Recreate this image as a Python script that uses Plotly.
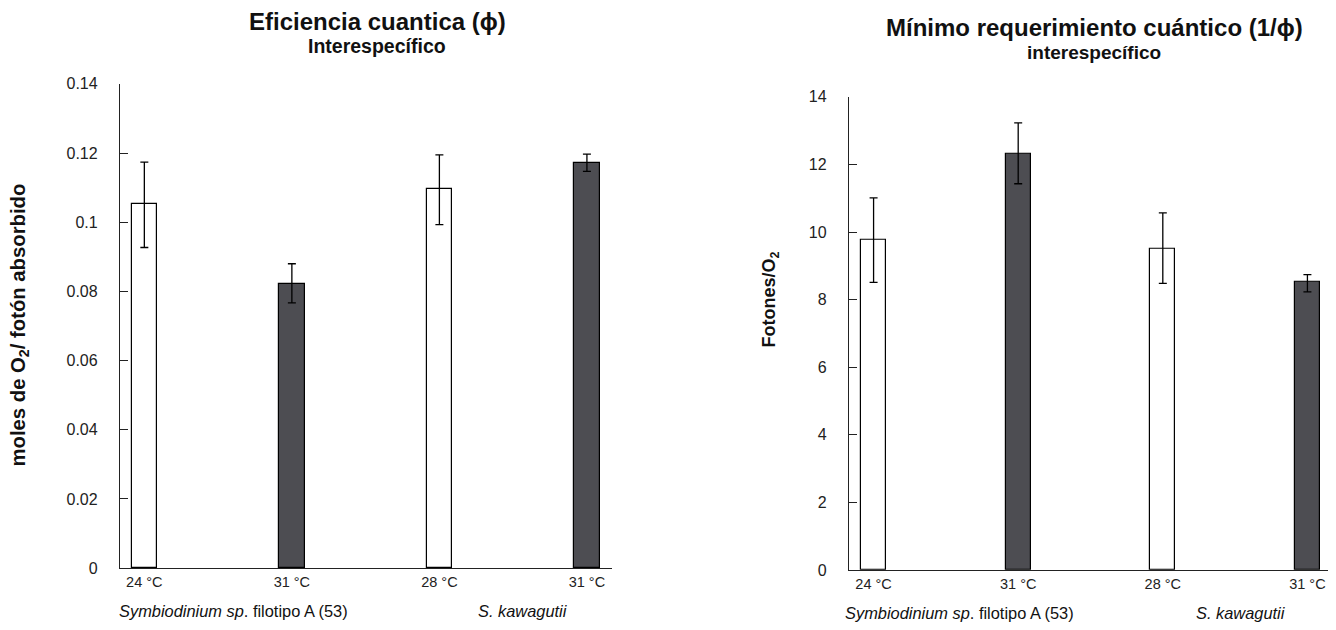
import plotly.graph_objects as go

# ---- data ----
temps = ["24 °C", "31 °C", "28 °C", "31 °C"]
species = ["<i>Symbiodinium sp</i>. filotipo A (53)", "<i>S. kawagutii</i>"]
fill_kind = ["white", "dark", "white", "dark"]

phi_values = [0.1053, 0.0822, 0.1096, 0.1172]
phi_err_plus = [0.0121, 0.0058, 0.0099, 0.0025]
phi_err_minus = [0.0126, 0.0055, 0.0103, 0.0025]
phi_ticks = [0, 0.02, 0.04, 0.06, 0.08, 0.1, 0.12, 0.14]
phi_ticktext = ["0", "0.02", "0.04", "0.06", "0.08", "0.1", "0.12", "0.14"]

inv_values = [9.78, 12.31, 9.49, 8.52]
inv_err_plus = [1.23, 0.92, 1.08, 0.22]
inv_err_minus = [1.27, 0.88, 1.01, 0.29]
inv_ticks = [0, 2, 4, 6, 8, 10, 12, 14]
inv_ticktext = ["0", "2", "4", "6", "8", "10", "12", "14"]

DARK = "#4d4d52"
FONT = "Liberation Sans, Arial, sans-serif"
colors = ["white" if k == "white" else DARK for k in fill_kind]
xpos = list(range(len(temps)))

fig = go.Figure()

for vals, ep, em, xa, ya in [
    (phi_values, phi_err_plus, phi_err_minus, "x", "y"),
    (inv_values, inv_err_plus, inv_err_minus, "x2", "y2"),
]:
    fig.add_trace(go.Bar(
        x=xpos, y=vals, xaxis=xa, yaxis=ya, width=0.172,
        marker=dict(color=colors, line=dict(color="black", width=1.2)),
        error_y=dict(type="data", array=ep, arrayminus=em, visible=True,
                     color="black", thickness=1.3, width=4),
        showlegend=False, hoverinfo="y",
    ))

W, H = 1336, 630
# observed page placement: figure drawn offset (8,16), effective height 614
OX, OY, EH = 8, 16, 614
def fx(px):
    return (px - OX) / W
def fy(py):
    return 1 - (py - OY) / EH

line_common = dict(showline=True, linecolor="#222", linewidth=1.3, showgrid=False,
                   zeroline=False)
ytick_font = dict(family=FONT, size=16, color="#222")
xtick_font = dict(family=FONT, size=14.5, color="#222")

fig.update_layout(
    width=W, height=H,
    margin=dict(l=0, r=0, t=0, b=0),
    plot_bgcolor="white", paper_bgcolor="white",
    font=dict(family=FONT, color="#111"),
    bargap=0,
    xaxis=dict(domain=[fx(120), fx(612)], range=[-0.165, 3.17], anchor="y",
               tickvals=xpos, ticktext=temps, ticks="", tickfont=xtick_font,
               **line_common),
    yaxis=dict(domain=[fy(569), fy(84)], range=[0, 0.14], anchor="x",
               tickvals=phi_ticks, ticktext=phi_ticktext,
               ticks="inside", ticklen=8, tickcolor="#222", tickwidth=1.2,
               ticklabelstandoff=18, tickfont=ytick_font, **line_common),
    xaxis2=dict(domain=[fx(849), fx(1332)], range=[-0.17, 3.17], anchor="y2",
                tickvals=xpos, ticktext=temps, ticks="", tickfont=xtick_font,
                **line_common),
    yaxis2=dict(domain=[fy(571), fy(97)], range=[0, 14], anchor="x2",
                tickvals=inv_ticks, ticktext=inv_ticktext,
                ticks="inside", ticklen=8, tickcolor="#222", tickwidth=1.2,
                ticklabelstandoff=18, tickfont=ytick_font, **line_common),
)

annots = [
    dict(x=fx(377), y=fy(22), text="<b>Eficiencia cuantica (ϕ)</b>", font=dict(size=24)),
    dict(x=fx(377), y=fy(46), text="<b>Interespecífico</b>", font=dict(size=19.5)),
    dict(x=fx(1094), y=fy(28), text="<b>Mínimo requerimiento cuántico (1/ϕ)</b>", font=dict(size=24)),
    dict(x=fx(1094), y=fy(53), text="<b>interespecífico</b>", font=dict(size=19)),
    dict(x=fx(19), y=fy(326), text="<b>moles de O<sub>2</sub>/ fotón absorbido</b>",
         textangle=-90, font=dict(size=20.3)),
    dict(x=fx(771), y=fy(300), text="<b>Fotones/O<sub>2</sub></b>",
         textangle=-90, font=dict(size=18)),
    dict(x=fx(233), y=fy(612), text=species[0], font=dict(size=16.4)),
    dict(x=fx(523), y=fy(612), text=species[1], font=dict(size=16.4)),
    dict(x=fx(959), y=fy(614), text=species[0], font=dict(size=16.4)),
    dict(x=fx(1241), y=fy(614), text=species[1], font=dict(size=16.4)),
]
for a in annots:
    a.update(xref="paper", yref="paper", showarrow=False, xanchor="center", yanchor="middle")
    a["font"] = dict(family=FONT, color="#111", **a["font"])
fig.update_layout(annotations=annots)

fig.write_html("out.html")
